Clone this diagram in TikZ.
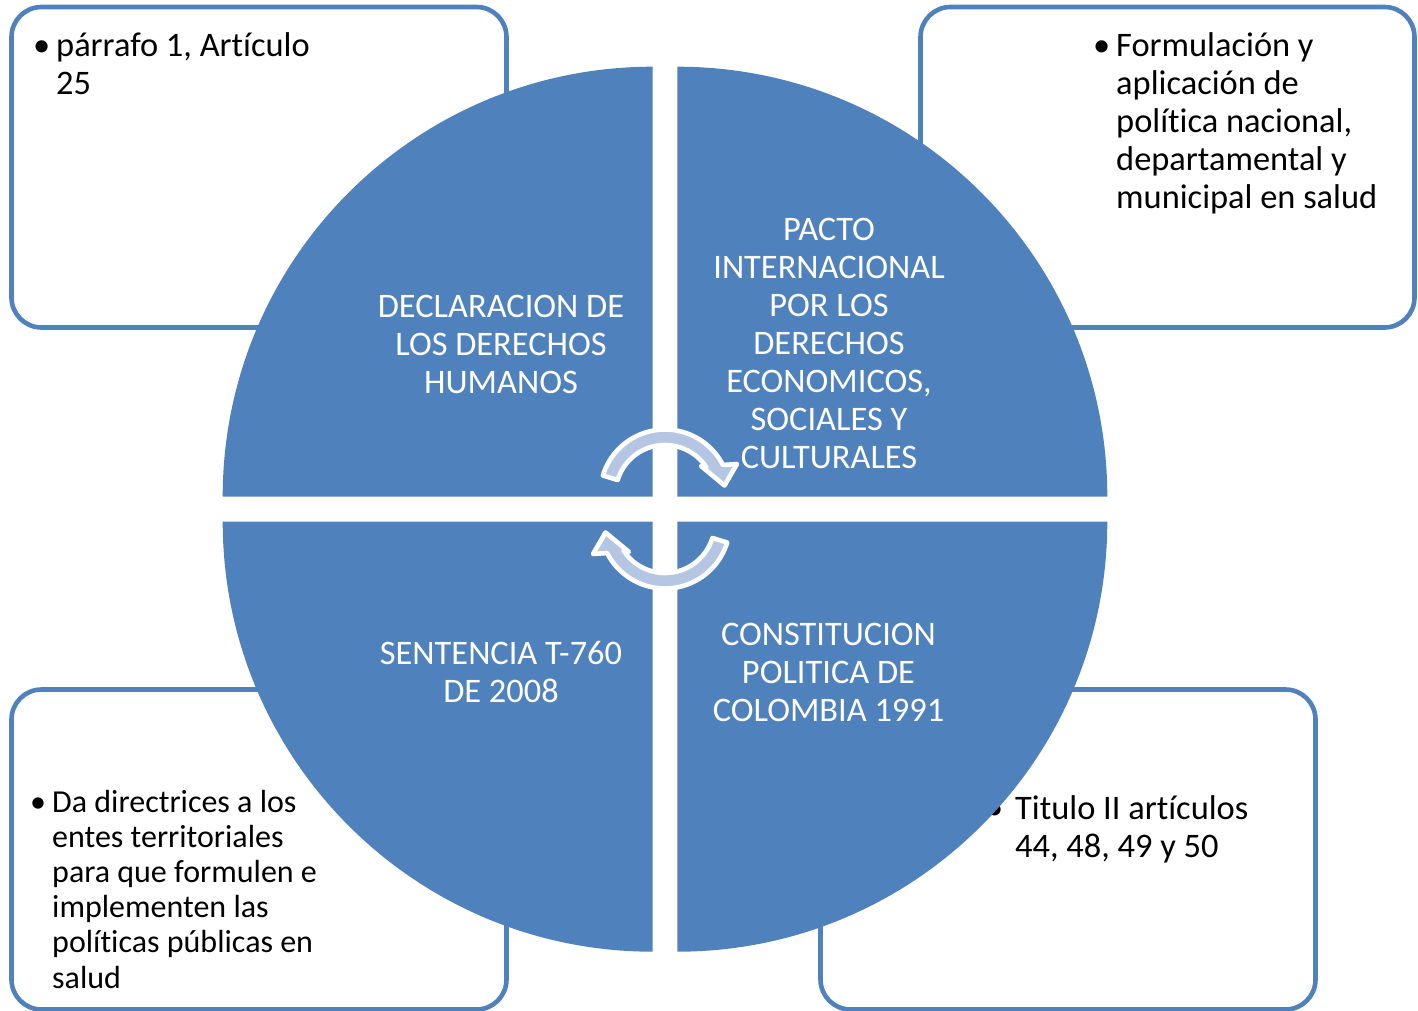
\documentclass[tikz,border=0pt]{standalone}
\usepackage{fontspec}
\setmainfont{Carlito}[Ligatures={NoCommon}]
\definecolor{pieblue}{HTML}{4F81BD}
\definecolor{arrowfill}{HTML}{B5C6E3}
\newcommand\mybigfont{\fontsize{34.4}{38}\selectfont}
\newcommand\mysmallfont{\fontsize{32}{35.2}\selectfont}
\tikzset{
  infobox/.style={draw=pieblue, line width=4.6pt, fill=white, rounded corners=30pt},
  pie/.style={fill=pieblue},
  cyclearrow/.style={fill=arrowfill, draw=white, line width=4.6pt, line join=round},
  pietext/.style={text=white, inner sep=0pt, anchor=base, font=\mybigfont},
  boxtext/.style={text=black, inner sep=0pt, anchor=base west, font=\mybigfont},
  smalltext/.style={text=black, inner sep=0pt, anchor=base west, font=\mysmallfont},
}
\begin{document}
\begin{tikzpicture}[x=1pt,y=-1pt]
\useasboundingbox (0,0) rectangle (1418,1011);
% boxes
\draw[infobox] (11.5,7) rectangle (506.5,327.5);
\draw[infobox] (920.5,7) rectangle (1414.5,327.5);
\draw[infobox] (11.5,689.5) rectangle (506.5,1009.5);
\draw[infobox] (820.5,689.5) rectangle (1315.5,1009.5);
% box texts
\node[boxtext] (b1) at (33,57) {•};
\node[boxtext] (t1) at (56,57) {\begin{tabular}[t]{@{}l@{}}párrafo 1, Artículo\\25\end{tabular}};
\node[boxtext] (b2) at (1093,57) {•};
\node[boxtext] (t2) at (1116,57) {\begin{tabular}[t]{@{}l@{}}Formulación y\\aplicación de\\política nacional,\\departamental y\\municipal en salud\end{tabular}};
\node[smalltext] (b3) at (30,812) {•};
\node[smalltext] (t3) at (52,812) {\begin{tabular}[t]{@{}l@{}}Da directrices a los\\entes territoriales\\para que formulen e\\implementen las\\políticas públicas en\\salud\end{tabular}};
\node[boxtext] (b4) at (986,819) {•};
\node[boxtext] (t4) at (1015,819) {\begin{tabular}[t]{@{}l@{}}Titulo II artículos\\44, 48, 49 y 50\end{tabular}};
% pies
\coordinate (ctl) at (652.7,496.7);
\coordinate (ctr) at (677.3,496.7);
\coordinate (cbl) at (652.7,521.7);
\coordinate (cbr) at (677.3,521.7);
\fill[pie] (ctl) -- ++(-430,0) arc[start angle=180,end angle=270,radius=430] -- cycle;
\fill[pie] (ctr) -- ++(0,-430) arc[start angle=270,end angle=360,radius=430] -- cycle;
\fill[pie] (cbr) -- ++(430,0) arc[start angle=0,end angle=90,radius=430] -- cycle;
\fill[pie] (cbl) -- ++(0,430) arc[start angle=90,end angle=180,radius=430] -- cycle;
% pie texts
\node[pietext] (p1) at (501,317) {\begin{tabular}[t]{@{}c@{}}DECLARACION DE\\LOS DERECHOS\\HUMANOS\end{tabular}};
\node[pietext] (p2) at (829,240) {\begin{tabular}[t]{@{}c@{}}PACTO\\INTERNACIONAL\\POR LOS\\DERECHOS\\ECONOMICOS,\\SOCIALES Y\\CULTURALES\end{tabular}};
\node[pietext] (p3) at (501,664) {\begin{tabular}[t]{@{}c@{}}SENTENCIA T-760\\DE 2008\end{tabular}};
\node[pietext] (p4) at (828.5,645) {\begin{tabular}[t]{@{}c@{}}CONSTITUCION\\POLITICA DE\\COLOMBIA 1991\end{tabular}};
% circular arrows
\begin{scope}[shift={(665,494.5)},yscale=-1]
  \path[cyclearrow] (33:49.5) arc[start angle=33,end angle=163,radius=49.5]
    -- (163:65) arc[start angle=163,end angle=27,radius=65]
    -- (72,30.5) -- (59.5,9) -- (36,28.5) -- cycle;
\end{scope}
\begin{scope}[shift={(665,523.5)},yscale=-1,rotate=180]
  \path[cyclearrow] (33:49.5) arc[start angle=33,end angle=163,radius=49.5]
    -- (163:65) arc[start angle=163,end angle=27,radius=65]
    -- (72,30.5) -- (59.5,9) -- (36,28.5) -- cycle;
\end{scope}
\end{tikzpicture}
\end{document}
